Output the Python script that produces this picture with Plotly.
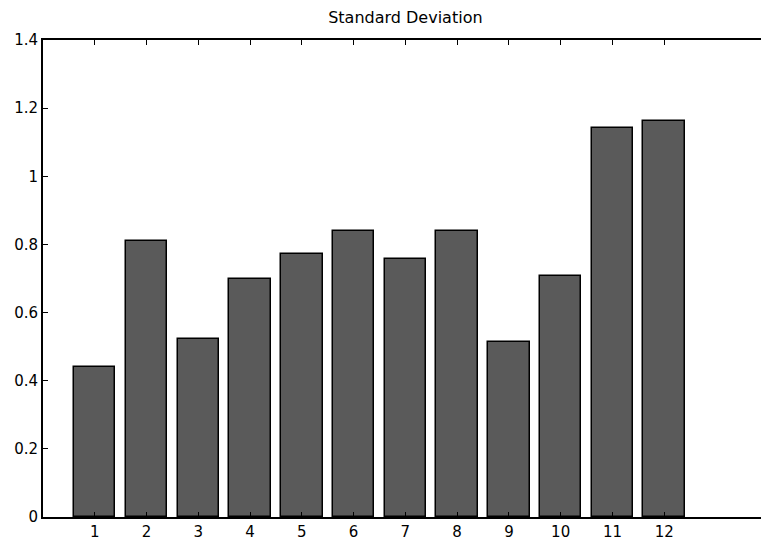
import plotly.graph_objects as go

categories = [1, 2, 3, 4, 5, 6, 7, 8, 9, 10, 11, 12]
std_values = [0.44, 0.81, 0.522, 0.70, 0.771, 0.838, 0.757, 0.840, 0.513, 0.708, 1.143, 1.161]
y_ticks = [0, 0.2, 0.4, 0.6, 0.8, 1.0, 1.2, 1.4]
y_tick_labels = ["0", "0.2", "0.4", "0.6", "0.8", "1", "1.2", "1.4"]

W, H = 761, 543
L, R, T, B = 43, 0, 40, 26
x_max = 13.87  # axes reach to x=14, cut at the picture edge

fig = go.Figure()
fig.add_trace(go.Bar(
    x=categories, y=std_values, width=0.8,
    marker=dict(color="#5a5a5a", line=dict(color="black", width=1.5)),
    showlegend=False,
))

# title centred on full axes [0,14]
title_x_px = L + (7.0 / x_max) * (W - L - R)

fig.update_layout(
    width=W, height=H,
    margin=dict(l=L, r=R, t=T, b=B, autoexpand=False),
    paper_bgcolor="white", plot_bgcolor="white",
    font=dict(family="DejaVu Sans, Arial, sans-serif", size=15, color="black"),
    bargap=0,
    title=dict(
        text="Standard Deviation", x=title_x_px / W, y=1 - 17 / H,
        xref="container", yref="container", xanchor="center", yanchor="middle",
        font=dict(size=16, color="black"),
    ),
)
fig.update_xaxes(
    range=[0, x_max], tickmode="array", tickvals=categories,
    ticktext=[str(c) for c in categories],
    showgrid=False, zeroline=False, automargin=False,
    showline=True, linecolor="black", linewidth=2, mirror="ticks",
    ticks="inside", ticklen=5, tickcolor="black", tickwidth=1,
)
fig.update_yaxes(
    range=[0, 1.4], tickmode="array", tickvals=y_ticks, ticktext=y_tick_labels,
    showgrid=False, zeroline=False, automargin=False,
    showline=True, linecolor="black", linewidth=2, mirror=False,
    ticks="inside", ticklen=5, tickcolor="black", tickwidth=1,
)
fig.write_html(
    "out.html",
    config={"displayModeBar": False},
    post_script="document.body.style.margin='0';document.body.style.padding='0';document.body.style.overflow='hidden';",
)
